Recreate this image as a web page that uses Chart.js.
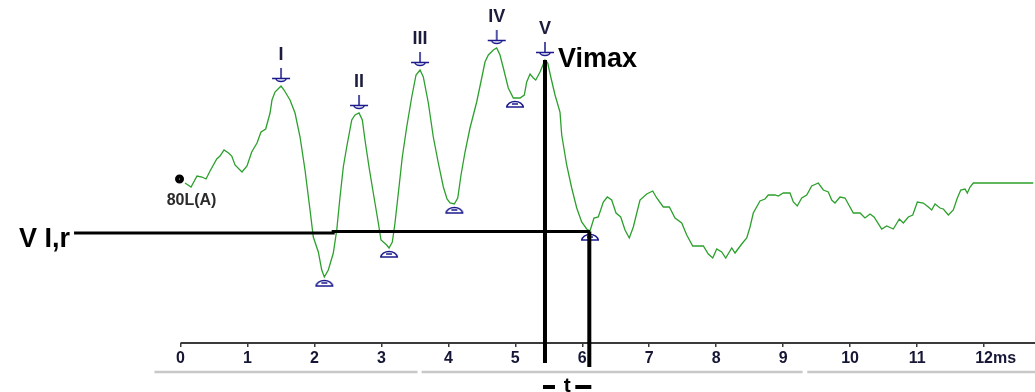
<!DOCTYPE html>
<html>
<head>
<meta charset="utf-8">
<title>ABR 80L(A)</title>
<script src="https://cdn.jsdelivr.net/npm/chart.js@4.4.0/dist/chart.umd.min.js"></script>
<style>
  html, body { margin: 0; padding: 0; background: #fff; }
  #wrap { width: 1035px; height: 392px; }
</style>
</head>
<body>
<div id="wrap"><canvas id="abr" width="1035" height="392"></canvas></div>
<script>
// averaged response, time in ms / amplitude
const traceTime = [
  0.067, 0.157, 0.246, 0.321, 0.381, 0.441, 0.541, 0.590, 0.650, 0.717,
  0.765, 0.814, 0.918, 0.993, 1.063, 1.142, 1.202, 1.272, 1.337, 1.366,
  1.411, 1.471, 1.501, 1.546, 1.635, 1.710, 1.785, 1.859, 1.934, 1.983,
  2.058, 2.109, 2.148, 2.207, 2.282, 2.333, 2.382, 2.431, 2.482, 2.557,
  2.606, 2.666, 2.715, 2.755, 2.815, 2.879, 2.954, 2.994, 3.079, 3.114,
  3.163, 3.203, 3.253, 3.312, 3.378, 3.453, 3.517, 3.577, 3.626, 3.701,
  3.775, 3.850, 3.925, 3.980, 4.025, 4.089, 4.140, 4.189, 4.249, 4.323,
  4.423, 4.498, 4.547, 4.597, 4.671, 4.722, 4.771, 4.821, 4.895, 4.970,
  5.070, 5.134, 5.170, 5.220, 5.269, 5.305, 5.369, 5.443, 5.484, 5.533,
  5.593, 5.667, 5.693, 5.767, 5.842, 5.917, 5.991, 6.066, 6.115, 6.175,
  6.239, 6.314, 6.374, 6.439, 6.504, 6.574, 6.638, 6.702, 6.762, 6.862,
  6.962, 7.052, 7.112, 7.210, 7.300, 7.385, 7.485, 7.560, 7.649, 7.733,
  7.808, 7.882, 7.948, 8.008, 8.082, 8.142, 8.232, 8.281, 8.381, 8.456,
  8.505, 8.554, 8.654, 8.729, 8.778, 8.878, 8.927, 9.002, 9.102, 9.152,
  9.211, 9.277, 9.352, 9.426, 9.525, 9.600, 9.674, 9.725, 9.774, 9.849,
  9.924, 9.973, 10.048, 10.148, 10.222, 10.297, 10.357, 10.472, 10.546, 10.645,
  10.735, 10.795, 10.869, 10.935, 11.004, 11.093, 11.168, 11.218, 11.268, 11.343,
  11.392, 11.467, 11.541, 11.601, 11.652, 11.716, 11.750, 11.791, 11.840, 12.735
];
const traceAmp = [
  1.60, 1.56, 1.67, 1.66, 1.64, 1.72, 1.84, 1.87, 1.93, 1.90,
  1.87, 1.78, 1.71, 1.77, 1.91, 2.00, 2.11, 2.14, 2.30, 2.43,
  2.51, 2.55, 2.57, 2.53, 2.43, 2.30, 2.06, 1.73, 1.33, 1.06,
  0.91, 0.73, 0.66, 0.73, 0.90, 1.13, 1.46, 1.76, 1.96, 2.23,
  2.28, 2.30, 2.23, 2.03, 1.76, 1.50, 1.20, 1.03, 0.98, 0.95,
  1.01, 1.20, 1.50, 1.86, 2.16, 2.46, 2.68, 2.73, 2.66, 2.40,
  2.06, 1.80, 1.56, 1.44, 1.40, 1.39, 1.45, 1.68, 1.91, 2.15,
  2.41, 2.65, 2.81, 2.88, 2.93, 2.95, 2.88, 2.75, 2.55, 2.45,
  2.45, 2.48, 2.61, 2.69, 2.65, 2.63, 2.71, 2.83, 2.80, 2.65,
  2.48, 2.31, 2.08, 1.78, 1.55, 1.35, 1.21, 1.14, 1.12, 1.25,
  1.26, 1.41, 1.46, 1.43, 1.30, 1.26, 1.13, 1.05, 1.16, 1.43,
  1.49, 1.52, 1.45, 1.36, 1.36, 1.25, 1.20, 1.08, 0.97, 0.97,
  0.97, 0.89, 0.85, 0.94, 0.91, 0.85, 0.95, 0.90, 0.99, 1.05,
  1.16, 1.30, 1.42, 1.44, 1.48, 1.48, 1.47, 1.50, 1.50, 1.41,
  1.37, 1.45, 1.48, 1.57, 1.60, 1.53, 1.51, 1.43, 1.40, 1.46,
  1.45, 1.39, 1.30, 1.30, 1.25, 1.29, 1.26, 1.14, 1.17, 1.14,
  1.24, 1.20, 1.26, 1.28, 1.41, 1.40, 1.36, 1.33, 1.39, 1.35,
  1.34, 1.28, 1.33, 1.45, 1.53, 1.54, 1.50, 1.56, 1.60, 1.60
];

// wave peaks I..V and the troughs that follow them
const peakNames = ["I", "II", "III", "IV", "V"];
const peakTime = [1.501, 2.666, 3.577, 4.722, 5.443];
const peakAmp = [2.57, 2.30, 2.73, 2.95, 2.83];
const troughTime = [2.148, 3.114, 4.089, 4.995, 6.115];
const troughAmp = [0.66, 0.95, 1.39, 2.45, 1.12];

// stimulus marker
const stimTime = -0.015;
const stimAmp = 1.64;
const stimLabel = "80L(A)";

// time axis
const tickValues = [0, 1, 2, 3, 4, 5, 6, 7, 8, 9, 10, 11, 12];
const tickLabels = ["0", "1", "2", "3", "4", "5", "6", "7", "8", "9", "10", "11", "12"];
const timeUnit = "ms";

// measurement cursors: V I,r level, Vimax line and V' line
const levelTime = [-1.59, 2.28, 2.28, 6.115];
const levelAmp = [1.10, 1.10, 1.115, 1.115];
const vmaxTime = [5.443, 5.443];
const vmaxAmp = [2.83, -0.20];
const vEndTime = [6.105, 6.105];
const vEndAmp = [1.115, -0.24];

// grey strip under the axis
const stripAmp = -0.29;
const stripRanges = [[-0.39, 3.54], [3.60, 9.29], [9.36, 12.76]];

const FONT = "'Liberation Sans', Arial, sans-serif";
const NAVY = "#1a1a8c";

function pts(xs, ys) {
  return xs.map((x, i) => ({ x: x, y: ys[i] }));
}

function peakMarker() {
  const c = document.createElement("canvas");
  c.width = 20; c.height = 40;
  const g = c.getContext("2d");
  g.strokeStyle = NAVY; g.lineWidth = 1.5;
  g.beginPath();
  g.moveTo(10, 2); g.lineTo(10, 12.5);
  g.moveTo(1, 12.5); g.lineTo(19, 12.5);
  g.stroke();
  g.beginPath();
  g.ellipse(10, 12.5, 5, 3, 0, 0, Math.PI);
  g.stroke();
  return c;
}

function troughMarker() {
  const c = document.createElement("canvas");
  c.width = 20; c.height = 40;
  const g = c.getContext("2d");
  g.strokeStyle = NAVY; g.lineWidth = 1.5;
  g.beginPath();
  g.moveTo(1, 29); g.lineTo(19, 29);
  g.stroke();
  g.beginPath();
  g.ellipse(10, 29, 8, 5.5, 0, Math.PI, Math.PI * 2);
  g.stroke();
  g.beginPath();
  g.moveTo(7, 26); g.lineTo(13, 26);
  g.stroke();
  return c;
}

const lineSet = (data, color, width) => ({
  data: data,
  showLine: true,
  borderColor: color,
  borderWidth: width,
  pointRadius: 0,
  tension: 0,
  borderCapStyle: "butt"
});

const overlay = {
  id: "abrOverlay",
  beforeDatasetsDraw(chart) {
    const { ctx, width } = chart;
    const x = chart.scales.x, y = chart.scales.y;
    const y0 = y.getPixelForValue(0);
    ctx.save();
    ctx.strokeStyle = "#3a3a3a";
    ctx.lineWidth = 2;
    ctx.beginPath();
    ctx.moveTo(x.getPixelForValue(tickValues[0]), y0);
    ctx.lineTo(width, y0);
    ctx.stroke();
    ctx.restore();
  },
  afterDatasetsDraw(chart) {
    const { ctx } = chart;
    const x = chart.scales.x, y = chart.scales.y;
    ctx.save();

    // wave names above the peak markers
    ctx.fillStyle = "#1c1c3c";
    ctx.font = "bold 18px " + FONT;
    ctx.textAlign = "center";
    ctx.textBaseline = "middle";
    peakNames.forEach((n, i) => {
      ctx.fillText(n, x.getPixelForValue(peakTime[i]), y.getPixelForValue(peakAmp[i]) - 31);
    });

    // Vimax tag next to wave V
    ctx.fillStyle = "#000";
    ctx.font = "bold 27px " + FONT;
    ctx.textAlign = "left";
    ctx.textBaseline = "alphabetic";
    ctx.fillText("Vimax", x.getPixelForValue(vmaxTime[0]) + 13, y.getPixelForValue(vmaxAmp[0]) + 7);

    // V I,r level tag
    ctx.textAlign = "right";
    ctx.fillText("V I,r", x.getPixelForValue(levelTime[0]) - 4, y.getPixelForValue(levelAmp[0]) + 14);

    // stimulus label
    ctx.fillStyle = "#2a2a2a";
    ctx.font = "bold 16px " + FONT;
    ctx.textAlign = "center";
    ctx.textBaseline = "middle";
    ctx.fillText(stimLabel, x.getPixelForValue(stimTime) + 12, y.getPixelForValue(stimAmp) + 22);

    // unit after the last tick
    ctx.fillStyle = "#161636";
    ctx.textAlign = "left";
    ctx.textBaseline = "alphabetic";
    const last = tickValues[tickValues.length - 1];
    const lastW = ctx.measureText(tickLabels[tickLabels.length - 1]).width;
    ctx.fillText(timeUnit, x.getPixelForValue(last) + lastW / 2, y.getPixelForValue(0) + 20);

    // interval t between the two cursors
    const xa = x.getPixelForValue(vmaxTime[0]);
    const xb = x.getPixelForValue(vEndTime[0]);
    const yt = y.getPixelForValue(stripAmp) + 15;
    ctx.fillStyle = "#000";
    ctx.fillRect(xa - 2, yt - 2, 12, 4);
    ctx.fillRect(xb - 14, yt - 2, 16, 4);
    ctx.font = "bold 21px " + FONT;
    ctx.textAlign = "center";
    ctx.fillText("t", (xa + xb) / 2, yt + 5);

    ctx.restore();
  }
};

new Chart(document.getElementById("abr"), {
  type: "scatter",
  data: {
    datasets: [
      lineSet(pts(vmaxTime, vmaxAmp), "#000", 4),
      lineSet(pts(vEndTime, vEndAmp), "#000", 4),
      lineSet(pts(levelTime, levelAmp), "#000", 3),
      {
        data: pts([stimTime], [stimAmp]),
        pointRadius: 2.5,
        borderWidth: 4,
        borderColor: "#000",
        backgroundColor: "#fff"
      },
      {
        data: pts(peakTime, peakAmp),
        pointStyle: peakMarker(),
        pointRadius: 1
      },
      {
        data: pts(troughTime, troughAmp),
        pointStyle: troughMarker(),
        pointRadius: 1
      },
      lineSet(pts(traceTime, traceAmp), "#2ca02c", 1.3),
      ...stripRanges.map(r => lineSet(pts(r, [stripAmp, stripAmp]), "#c8c8c8", 2.5))
    ]
  },
  options: {
    responsive: false,
    animation: false,
    devicePixelRatio: 1,
    layout: { padding: 0, autoPadding: false },
    plugins: { legend: { display: false }, tooltip: { enabled: false } },
    events: [],
    scales: {
      x: {
        type: "linear",
        min: -2.696,
        max: 12.761,
        position: { y: 0 },
        afterBuildTicks: (scale) => {
          scale.ticks = tickValues.map(v => ({ value: v }));
        },
        ticks: {
          autoSkip: false,
          maxRotation: 0,
          padding: 2,
          color: "#161636",
          font: { family: FONT, size: 16, weight: "bold" },
          callback: (v) => tickLabels[tickValues.indexOf(v)]
        },
        grid: {
          drawOnChartArea: false,
          drawTicks: true,
          tickLength: 4,
          color: "#3a3a3a",
          lineWidth: 1.5
        },
        border: { display: false }
      },
      y: {
        type: "linear",
        display: false,
        min: -0.49,
        max: 3.43
      }
    }
  },
  plugins: [overlay]
});
</script>
</body>
</html>
